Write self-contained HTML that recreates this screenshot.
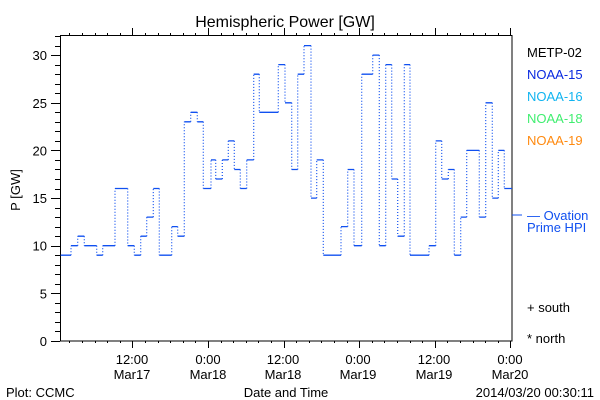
<!DOCTYPE html>
<html><head><meta charset="utf-8"><style>
body{margin:0;background:#fff;}
svg{display:block;font-family:"Liberation Sans",sans-serif;}
</style></head><body>
<svg id="s" width="600" height="400" viewBox="0 0 600 400" xmlns="http://www.w3.org/2000/svg">
<rect width="600" height="400" fill="#fff"/>
<text x="285" y="27" font-size="16" text-anchor="middle" fill="#000">Hemispheric Power [GW]</text>
<rect x="60.5" y="35.5" width="451.5" height="305.5" fill="none" stroke="#000" stroke-width="1"/>
<g id="ticks" stroke="#000" stroke-width="1"></g>
<g id="ylab" font-size="13" text-anchor="end" fill="#000"></g>
<text transform="translate(20,190) rotate(-90)" font-size="13" text-anchor="middle">P [GW]</text>
<g font-size="13" text-anchor="middle" fill="#000">
<text x="132" y="364">12:00</text><text x="132" y="379">Mar17</text>
<text x="208" y="364">0:00</text><text x="208" y="379">Mar18</text>
<text x="283" y="364">12:00</text><text x="283" y="379">Mar18</text>
<text x="358" y="364">0:00</text><text x="358" y="379">Mar19</text>
<text x="434" y="364">12:00</text><text x="434" y="379">Mar19</text>
<text x="510" y="364">0:00</text><text x="510" y="379">Mar20</text>
<text x="286" y="397">Date and Time</text>
</g>
<text x="6" y="397" font-size="13">Plot: CCMC</text>
<text x="594" y="397" font-size="13" text-anchor="end">2014/03/20 00:30:11</text>
<g font-size="13">
<text x="527" y="57" fill="#000">METP-02</text>
<text x="527" y="79" fill="#0a2ae0">NOAA-15</text>
<text x="527" y="101" fill="#10b4f0">NOAA-16</text>
<text x="527" y="123" fill="#40ee70">NOAA-18</text>
<text x="527" y="145" fill="#ff8a10">NOAA-19</text>
<text x="527" y="220" fill="#1050f0">— Ovation</text>
<text x="527" y="232" fill="#1050f0">Prime HPI</text>
<text x="527" y="312" fill="#000">+ south</text>
<text x="527" y="343" fill="#000">* north</text>
</g>
<line x1="512" y1="215" x2="522" y2="215" stroke="#1050f0" stroke-width="1"/>
<path id="h" fill="none" stroke="#1050f0" stroke-width="1.3"/>
<path id="v" fill="none" stroke="#1050f0" stroke-width="1.2" stroke-dasharray="1 2"/>
</svg>
<script>
var y=function(v){return 341-9.53*v;};
var d=[[60.7,9],[71,10],[77.7,11],[84.3,10],[96.7,9],[102.7,10],[115,16],[127.7,10],[134.3,9],[140.7,11],[146.7,13],[153.3,16],[159.3,9],[171.7,12],[177.7,11],[184.3,23],[190.7,24],[197.3,23],[203.3,16],[211,19],[215.7,17],[222.3,19],[228.3,21],[234.3,18],[240.3,16],[246.7,19],[253.7,28],[259.3,24],[278.3,29],[285,25],[291.7,18],[297.7,28],[304,31],[311,15],[316.7,19],[323.3,9],[341,12],[347.7,18],[354,10],[361.7,28],[372.7,30],[379.3,10],[385.7,29],[391.7,17],[397.7,11],[404.3,29],[410,9],[429,10],[435.7,21],[441.7,17],[448.3,18],[454.3,9],[460.7,13],[466.7,20],[479.3,13],[485.7,25],[492.3,15],[498.3,20],[504.3,16]];
var end=512,h="",v="";
for(var i=0;i<d.length;i++){var x1=d[i][0],x2=i<d.length-1?d[i+1][0]:end,yy=y(d[i][1]).toFixed(1);
h+="M"+x1+" "+yy+"H"+x2;
if(i<d.length-1)v+="M"+x2+" "+yy+"V"+y(d[i+1][1]).toFixed(1);}
document.getElementById("h").setAttribute("d",h);
document.getElementById("v").setAttribute("d",v);
var t="",NS="http://www.w3.org/2000/svg";
for(var k=0;k<=32;k++){var yy=Math.round(y(k))+0.5;var L=k%5==0?9:5;t+="M"+(60-L)+" "+yy+"H60";}
for(var j=0;j<36;j++){var xx=69.3+12.6*j;if(xx>512)break;var X=Math.round(xx)+0.5;var maj=(j%6==5);
t+="M"+X+" 341V"+(maj?348:343)+"M"+X+" 35V"+(maj?28:33);}
var p=document.createElementNS(NS,"path");p.setAttribute("d",t);p.setAttribute("stroke","#000");p.setAttribute("fill","none");
document.getElementById("ticks").appendChild(p);
var g=document.getElementById("ylab");
for(var k=0;k<=30;k+=5){var e=document.createElementNS(NS,"text");e.setAttribute("x","47");e.setAttribute("y",(y(k)+5).toFixed(1));e.textContent=k;g.appendChild(e);}
</script>
</body></html>
